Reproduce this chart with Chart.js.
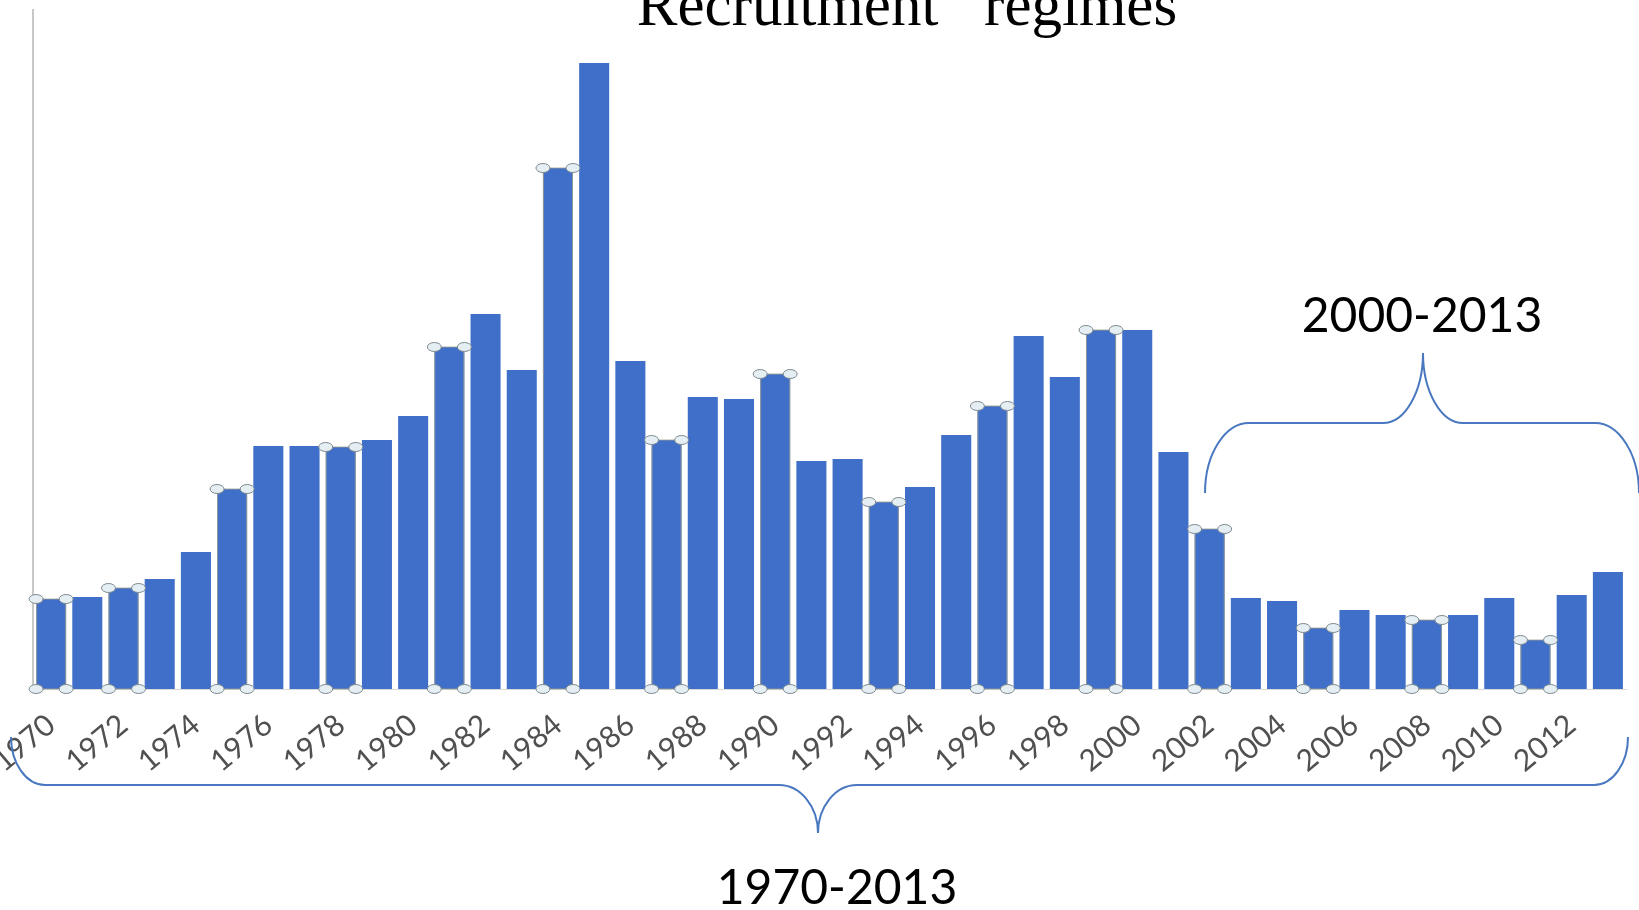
<!DOCTYPE html>
<html>
<head>
<meta charset="utf-8">
<script src="https://cdn.jsdelivr.net/npm/chart.js@4.4.0/dist/chart.umd.min.js"></script>
<style>
  html, body { margin: 0; padding: 0; background: #ffffff; }
  #wrap { width: 1639px; height: 910px; position: relative; }
</style>
</head>
<body>
<div id="wrap"><canvas id="recruitment_chart"></canvas></div>
<script>
// data (relative recruitment, no y scale shown)
const years = [1970,1971,1972,1973,1974,1975,1976,1977,1978,1979,
               1980,1981,1982,1983,1984,1985,1986,1987,1988,1989,
               1990,1991,1992,1993,1994,1995,1996,1997,1998,1999,
               2000,2001,2002,2003,2004,2005,2006,2007,2008,2009,
               2010,2011,2012,2013];
const recruitment = [90,92,101,110,137,200,243,243,242,249,
                     273,342,375,319,521,626,328,249,292,290,
                     315,228,230,187,202,254,283,353,312,359,
                     359,237,160,91,88,61,79,74,69,74,
                     91,49,94,117];
// bars that show selection handles in the original
const selected_years = [1970,1972,1975,1978,1981,1984,1987,1990,1993,1996,1999,2002,2005,2008,2011];
const title_text = "Recruitment   regimes";
const recent_label = "2000-2013";
const full_label = "1970-2013";

const bar_blue = '#3f6fc9';
const brace_blue = '#4a78c0';

function draw_brace(ctx, xl, xr, xt, y_end, y_bar, y_tip, r_end, r_tip){
  const k = 0.55;
  ctx.beginPath();
  ctx.moveTo(xl, y_end);
  ctx.bezierCurveTo(xl, y_end + k*(y_bar-y_end), xl + (1-k)*r_end, y_bar, xl + r_end, y_bar);
  ctx.lineTo(xt - r_tip, y_bar);
  ctx.bezierCurveTo(xt - (1-k)*r_tip, y_bar, xt, y_bar + (1-k)*(y_tip-y_bar), xt, y_tip);
  ctx.bezierCurveTo(xt, y_bar + (1-k)*(y_tip-y_bar), xt + (1-k)*r_tip, y_bar, xt + r_tip, y_bar);
  ctx.lineTo(xr - r_end, y_bar);
  ctx.bezierCurveTo(xr - (1-k)*r_end, y_bar, xr, y_end + k*(y_bar-y_end), xr, y_end);
  ctx.stroke();
}

const annotations = {
  id: 'annotations',
  afterDatasetsDraw(chart){
    const ctx = chart.ctx;
    const meta = chart.getDatasetMeta(0);
    ctx.save();
    // selection handles
    selected_years.forEach(y => {
      const bar = meta.data[years.indexOf(y)];
      if (!bar) return;
      const p = bar.getProps(['x','y','base','width'], true);
      const l = p.x - p.width/2, r = p.x + p.width/2;
      ctx.strokeStyle = 'rgba(160,160,140,0.8)';
      ctx.lineWidth = 1;
      ctx.strokeRect(l + 0.5, p.y, p.width - 1, p.base - p.y);
      [[l,p.y],[r,p.y],[l,p.base],[r,p.base]].forEach(([hx,hy]) => {
        ctx.beginPath();
        ctx.ellipse(hx, hy, 7, 4.5, 0, 0, Math.PI*2);
        ctx.fillStyle = '#e4eef3';
        ctx.fill();
        ctx.strokeStyle = '#7e8a90';
        ctx.stroke();
      });
    });
    ctx.restore();
  },
  afterDraw(chart){
    const ctx = chart.ctx;
    ctx.save();
    ctx.fillStyle = '#000000';
    ctx.textAlign = 'center';
    ctx.textBaseline = 'alphabetic';
    ctx.font = '61px "Liberation Serif"';
    ctx.fillText(title_text, 907, 25);
    ctx.font = '48px Lato';
    ctx.fillText(recent_label, 1422, 332);
    ctx.fillText(full_label, 837, 904);
    ctx.strokeStyle = brace_blue;
    ctx.lineWidth = 2;
    draw_brace(ctx, 1205, 1639, 1423, 493, 423, 353, 44, 40);
    draw_brace(ctx, 11, 1628, 818, 737, 785, 833, 34, 39);
    ctx.restore();
  }
};

const canvas = document.getElementById('recruitment_chart');
const recruitment_chart = new Chart(canvas, {
  type: 'bar',
  data: {
    labels: years,
    datasets: [{
      label: 'Recruitment',
      data: recruitment,
      backgroundColor: bar_blue,
      borderWidth: 0,
      categoryPercentage: 1,
      barPercentage: 0.83,
    }]
  },
  options: {
    responsive: true,
    maintainAspectRatio: false,
    animation: false,
    layout: { padding: { left: 33, right: 13, top: 10, bottom: 0 } },
    plugins: {
      legend: { display: false },
      tooltip: { enabled: false },
      title: { display: false },
    },
    scales: {
      x: {
        grid: { display: false },
        border: { display: true, color: '#d9d9d9', width: 1 },
        ticks: {
          autoSkip: false,
          minRotation: 40,
          maxRotation: 40,
          padding: 10,
          color: '#505050',
          font: { family: 'Lato', size: 30 },
          callback: function(value, index){ return years[index] % 2 === 0 ? String(years[index]) : ''; }
        },
        afterFit(scale){ scale.paddingLeft = 0; scale.paddingRight = 0; scale.height = 221; }
      },
      y: {
        min: 0,
        max: 679,
        grid: { display: false, drawTicks: false },
        border: { display: true, color: '#c8c8c8', width: 2 },
        ticks: { display: false },
        afterFit(scale){ scale.width = 0; }
      }
    }
  },
  plugins: [annotations]
});
</script>
</body>
</html>
